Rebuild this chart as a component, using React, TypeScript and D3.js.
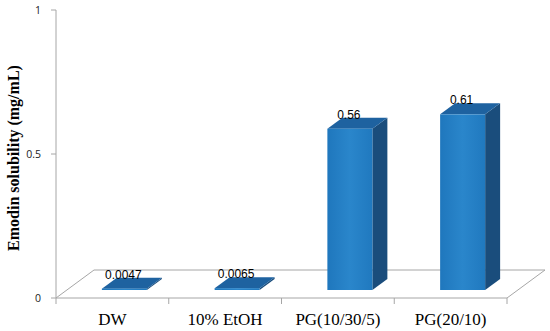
import React from "react";
import * as d3 from "d3";

const categories = ["DW", "10% EtOH", "PG(10/30/5)", "PG(20/10)"];
const values = [0.0047, 0.0065, 0.56, 0.61];
const valueLabels = ["0.0047", "0.0065", "0.56", "0.61"];
const yTicks = [0, 0.5, 1];
const yTickLabels = ["0", "0.5", "1"];

export default function App() {
  const W = 550, H = 331;
  const x = d3.scaleBand<string>().domain(categories).range([56, 507]).padding(0);
  const y = d3.scaleLinear().domain([0, 1]).range([298, 10]);
  const bw = x.bandwidth();
  const barW = 45;
  const off = { x: 12, y: -8 }; // bar front position in depth
  const dep = { x: 15, y: -11 }; // bar depth
  const floorD = { x: 38, y: -28 };
  const floorColor = "#a6a6a6";

  return (
    <svg width={W} height={H} style={{ position: "absolute", left: 0, top: 0, background: "#fff" }}>
      <defs>
        <linearGradient id="front" x1="0" x2="1" y1="0" y2="0">
          <stop offset="0" stopColor="#1f77bd" />
          <stop offset="0.5" stopColor="#2a86cb" />
          <stop offset="1" stopColor="#2079bf" />
        </linearGradient>
      </defs>
      {/* floor */}
      <path
        d={`M${x.range()[0]},${y(0)} L${x.range()[0] + floorD.x},${y(0) + floorD.y} L${x.range()[1] + floorD.x},${y(0) + floorD.y} L${x.range()[1]},${y(0)}`}
        fill="none"
        stroke={floorColor}
        strokeWidth={1}
      />
      {/* x axis */}
      <line x1={x.range()[0]} x2={x.range()[1]} y1={y(0)} y2={y(0)} stroke={floorColor} />
      {categories.map((c) => (
        <line key={c} x1={x(c)!} x2={x(c)!} y1={y(0)} y2={y(0) + 6} stroke={floorColor} />
      ))}
      <line x1={x.range()[1]} x2={x.range()[1]} y1={y(0)} y2={y(0) + 6} stroke={floorColor} />
      {/* y axis */}
      <line x1={56} x2={56} y1={y(1)} y2={y(0)} stroke={floorColor} />
      {yTicks.map((t, i) => (
        <g key={t}>
          <line x1={51} x2={56} y1={y(t)} y2={y(t)} stroke={floorColor} />
          <text x={41} y={y(t) + 4} textAnchor="end" fontFamily="Open Sans, Liberation Sans, sans-serif" fontSize={10.5} fill="#222">
            {yTickLabels[i]}
          </text>
        </g>
      ))}
      <text
        transform={`translate(19,158) rotate(-90)`}
        textAnchor="middle"
        fontFamily="Liberation Serif, Times New Roman, serif"
        fontWeight="bold"
        fontSize={16}
        fill="#000"
      >
        Emodin solubility (mg/mL)
      </text>
      {/* bars */}
      {categories.map((c, i) => {
        const cx = x(c)! + bw / 2 + off.x;
        const x0 = cx - barW / 2;
        const x1 = cx + barW / 2;
        const yb = y(0) + off.y;
        const yt = y(values[i]) + off.y;
        return (
          <g key={c}>
            <path
              d={`M${x1},${yb} L${x1 + dep.x},${yb + dep.y} L${x1 + dep.x},${yt + dep.y} L${x1},${yt} Z`}
              fill="#1a4d7c"
            />
            <path
              d={`M${x0},${yt} L${x0 + dep.x},${yt + dep.y} L${x1 + dep.x},${yt + dep.y} L${x1},${yt} Z`}
              fill="#1e62a0"
            />
            <rect x={x0} y={yt} width={barW} height={yb - yt} fill="url(#front)" />
            <text
              x={cx - 1}
              y={yt + dep.y + 1}
              textAnchor="middle"
              fontFamily="Liberation Sans, Arial, sans-serif"
              fontSize={12}
              fill="#000"
            >
              {valueLabels[i]}
            </text>
          </g>
        );
      })}
      {/* category labels */}
      {categories.map((c) => (
        <text
          key={c}
          x={x(c)! + bw / 2}
          y={325}
          textAnchor="middle"
          fontFamily="Liberation Serif, Times New Roman, serif"
          fontSize={17}
          fill="#000"
        >
          {c}
        </text>
      ))}
    </svg>
  );
}
